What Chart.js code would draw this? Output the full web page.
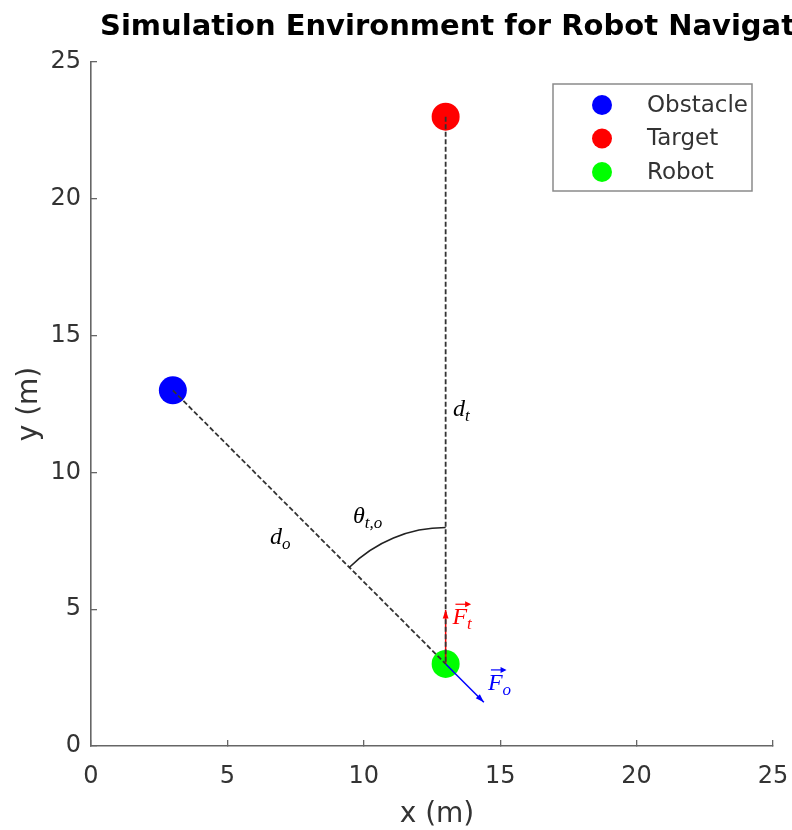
<!DOCTYPE html>
<html>
<head>
<meta charset="utf-8">
<script src="https://cdn.jsdelivr.net/npm/chart.js@4"></script>
<style>
  body { margin: 0; background: #fff; }
  canvas { display: block; }
</style>
</head>
<body>
<canvas id="chartCanvas" width="792" height="830"></canvas>
<script>
// positions in metres
const obstacle = [{ x: 3, y: 13 }];
const target = [{ x: 13, y: 23 }];
const robot = [{ x: 13, y: 3 }];
const lineObstacle = [{ x: 3, y: 13 }, { x: 13, y: 3 }];
const lineTarget = [{ x: 13, y: 23 }, { x: 13, y: 3 }];
const forceTarget = [{ x: 13, y: 3 }, { x: 13, y: 4.97 }];
const forceObstacle = [{ x: 13, y: 3 }, { x: 14.4, y: 1.6 }];
const angleArc = { x: 13, y: 3, r: 5, from: 90, to: 135 };
const tickValues = [0, 5, 10, 15, 20, 25];

// math labels: [x, y, main, sub, colour, vector]
const mathLabels = [
  [13.27, 12.05, 'd', 't', '#000', false],
  [6.56, 7.4, 'd', 'o', '#000', false],
  [9.6, 8.15, '\u03b8', 't,o', '#000', false],
  [13.25, 4.45, 'F', 't', '#ff0000', true],
  [14.55, 2.05, 'F', 'o', '#0000ff', true]
];

const titleText = 'Simulation Environment for Robot Navigation';
const xTitle = 'x (m)';
const yTitle = 'y (m)';

function arrowHead(ctx, x0, y0, x1, y1, color) {
  const a = Math.atan2(y1 - y0, x1 - x0);
  const len = 9, spread = 0.33;
  ctx.save();
  ctx.fillStyle = color;
  ctx.beginPath();
  ctx.moveTo(x1, y1);
  ctx.lineTo(x1 - len * Math.cos(a - spread), y1 - len * Math.sin(a - spread));
  ctx.lineTo(x1 - len * Math.cos(a + spread), y1 - len * Math.sin(a + spread));
  ctx.closePath();
  ctx.fill();
  ctx.restore();
}

const extras = {
  id: 'extras',
  afterDatasetsDraw(chart) {
    const ctx = chart.ctx;
    const xs = chart.scales.x, ys = chart.scales.y;

    // angle arc
    const cx = xs.getPixelForValue(angleArc.x);
    const cy = ys.getPixelForValue(angleArc.y);
    const rp = xs.getPixelForValue(angleArc.x + angleArc.r) - cx;
    ctx.save();
    ctx.strokeStyle = '#222';
    ctx.lineWidth = 1.6;
    ctx.beginPath();
    ctx.arc(cx, cy, rp, -angleArc.to * Math.PI / 180, -angleArc.from * Math.PI / 180);
    ctx.stroke();
    ctx.restore();

    // arrow heads
    [[forceTarget, '#ff0000'], [forceObstacle, '#0000ff']].forEach(([pts, c]) => {
      arrowHead(ctx,
        xs.getPixelForValue(pts[0].x), ys.getPixelForValue(pts[0].y),
        xs.getPixelForValue(pts[1].x), ys.getPixelForValue(pts[1].y), c);
    });

    // math labels
    mathLabels.forEach(([x, y, main, sub, color, vec]) => {
      const px = xs.getPixelForValue(x);
      const py = ys.getPixelForValue(y);
      ctx.save();
      ctx.fillStyle = color;
      ctx.strokeStyle = color;
      ctx.textBaseline = 'alphabetic';
      ctx.textAlign = 'left';
      ctx.font = 'italic 24px "Liberation Serif"';
      ctx.fillText(main, px, py);
      const w = ctx.measureText(main).width;
      ctx.font = 'italic 17px "Liberation Serif"';
      ctx.fillText(sub, px + w, py + 5);
      if (vec) {
        const ay = py - 20;
        ctx.lineWidth = 1.2;
        ctx.beginPath();
        ctx.moveTo(px + 3, ay);
        ctx.lineTo(px + w + 2, ay);
        ctx.stroke();
        ctx.beginPath();
        ctx.moveTo(px + w + 4, ay);
        ctx.lineTo(px + w - 2, ay - 3);
        ctx.lineTo(px + w - 2, ay + 3);
        ctx.closePath();
        ctx.fill();
      }
      ctx.restore();
    });
  },
  afterDraw(chart) {
    const ctx = chart.ctx;
    ctx.save();
    // title
    ctx.fillStyle = '#000';
    ctx.font = 'bold 29px "DejaVu Sans"';
    ctx.textAlign = 'left';
    ctx.textBaseline = 'alphabetic';
    ctx.fillText(titleText, 100, 35);

    // axis titles
    ctx.fillStyle = '#333';
    ctx.font = '28px "DejaVu Sans"';
    ctx.textAlign = 'center';
    ctx.textBaseline = 'middle';
    ctx.fillText(xTitle, 437, 815);
    ctx.translate(30, 404);
    ctx.rotate(-Math.PI / 2);
    ctx.fillText(yTitle, 0, 0);
    ctx.restore();

    // legend
    const boxL = 553, boxT = 84, boxW = 199, boxH = 107;
    ctx.save();
    ctx.fillStyle = '#fff';
    ctx.fillRect(boxL, boxT, boxW, boxH);
    ctx.strokeStyle = '#8a8a8a';
    ctx.lineWidth = 1.5;
    ctx.strokeRect(boxL, boxT, boxW, boxH);
    const items = chart.data.datasets.filter(d => d.inLegend);
    items.forEach((d, i) => {
      const y = 105 + i * 33.5;
      ctx.fillStyle = d.backgroundColor;
      ctx.beginPath();
      ctx.arc(602, y, 10, 0, Math.PI * 2);
      ctx.fill();
      ctx.fillStyle = '#333';
      ctx.font = '23px "DejaVu Sans"';
      ctx.textBaseline = 'middle';
      ctx.fillText(d.label, 647, y + 1);
    });
    ctx.restore();
  }
};

const ctx = document.getElementById('chartCanvas').getContext('2d');
new Chart(ctx, {
  type: 'scatter',
  data: {
    datasets: [
      { label: 'do', data: lineObstacle, showLine: true, borderColor: '#333', borderWidth: 1.8, borderDash: [5, 2.5], pointRadius: 0 },
      { label: 'dt', data: lineTarget, showLine: true, borderColor: '#333', borderWidth: 1.8, borderDash: [5, 2.5], pointRadius: 0 },
      { label: 'Ft', data: forceTarget, showLine: true, borderColor: '#ff0000', borderWidth: 1.5, pointRadius: 0 },
      { label: 'Fo', data: forceObstacle, showLine: true, borderColor: '#0000ff', borderWidth: 1.5, pointRadius: 0 },
      { label: 'Obstacle', data: obstacle, inLegend: true, backgroundColor: '#0000ff', borderColor: '#0000ff', pointRadius: 14, borderWidth: 0 },
      { label: 'Target', data: target, inLegend: true, backgroundColor: '#ff0000', borderColor: '#ff0000', pointRadius: 14, borderWidth: 0 },
      { label: 'Robot', data: robot, inLegend: true, backgroundColor: '#00ff00', borderColor: '#00ff00', pointRadius: 14, borderWidth: 0 }
    ]
  },
  options: {
    responsive: false,
    animation: false,
    events: [],
    layout: { padding: { left: 0, top: 62, right: 19, bottom: 0 } },
    plugins: { legend: { display: false }, tooltip: { enabled: false } },
    scales: {
      x: {
        type: 'linear', min: 0, max: 25,
        afterFit: s => { s.height = 84; s.paddingLeft = 0; s.paddingRight = 0; },
        afterBuildTicks: s => { s.ticks = tickValues.map(v => ({ value: v })); },
        grid: { drawOnChartArea: false, tickLength: -6, color: '#666', lineWidth: 1.3 },
        border: { color: '#666', width: 1.6 },
        ticks: { padding: 22, color: '#333', font: { family: 'DejaVu Sans', size: 24 }, maxRotation: 0 }
      },
      y: {
        type: 'linear', min: 0, max: 25,
        afterFit: s => { s.width = 91; s.paddingTop = 0; s.paddingBottom = 0; },
        afterBuildTicks: s => { s.ticks = tickValues.map(v => ({ value: v })); },
        grid: { drawOnChartArea: false, tickLength: -6, color: '#666', lineWidth: 1.3 },
        border: { color: '#666', width: 1.6 },
        ticks: { padding: 16, color: '#333', font: { family: 'DejaVu Sans', size: 24 } }
      }
    }
  },
  plugins: [extras]
});
</script>
</body>
</html>
